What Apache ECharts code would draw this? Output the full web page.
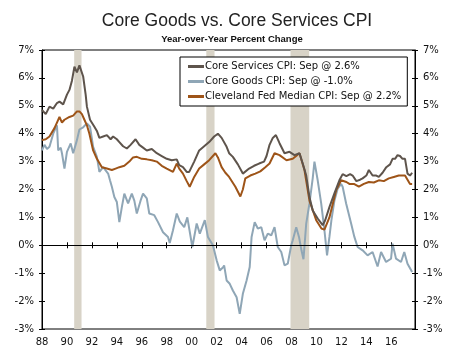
<!DOCTYPE html>
<html><head><meta charset="utf-8">
<script src="https://cdn.jsdelivr.net/npm/echarts@6/dist/echarts.min.js"></script>
<style>html,body{margin:0;padding:0;background:#fff}#c{width:450px;height:352px}</style>
</head><body><div id="c"></div>
<script>
// Year-over-year % change, readings [decimal year, value]
var coreServices = [[1988.0,4.85],[1988.3,4.7],[1988.6,4.97],[1988.9,4.9],[1989.2,5.1],[1989.4,5.15],[1989.7,5.05],[1990.0,5.4],[1990.2,5.57],[1990.4,5.9],[1990.6,6.4],[1990.8,6.2],[1991.0,6.45],[1991.1,6.5],[1991.3,6.05],[1991.5,5.4],[1991.6,4.97],[1991.85,4.5],[1992.2,4.25],[1992.4,4.1],[1992.6,3.85],[1992.9,3.9],[1993.2,3.95],[1993.5,3.8],[1993.7,3.9],[1994.0,3.8],[1994.2,3.7],[1994.5,3.55],[1994.8,3.47],[1995.1,3.6],[1995.5,3.8],[1995.8,3.6],[1996.1,3.5],[1996.4,3.4],[1996.8,3.45],[1997.2,3.3],[1997.6,3.2],[1998.0,3.1],[1998.4,3.05],[1998.8,3.08],[1999.0,2.87],[1999.3,2.8],[1999.6,2.63],[1999.8,2.63],[2000.2,3.0],[2000.6,3.4],[2001.0,3.55],[2001.4,3.7],[2001.8,3.9],[2002.1,4.0],[2002.4,3.85],[2002.8,3.53],[2003.0,3.3],[2003.3,3.17],[2003.7,2.9],[2004.1,2.57],[2004.6,2.75],[2005.0,2.85],[2005.4,2.93],[2005.8,3.0],[2006.0,3.2],[2006.24,3.6],[2006.5,3.85],[2006.75,3.95],[2007.04,3.66],[2007.44,3.3],[2007.84,3.35],[2008.24,3.23],[2008.64,3.3],[2008.9,2.93],[2009.18,2.5],[2009.44,1.73],[2009.7,1.25],[2010.1,0.96],[2010.5,0.72],[2010.7,0.9],[2011.04,1.37],[2011.44,1.86],[2011.84,2.33],[2012.1,2.55],[2012.4,2.48],[2012.7,2.55],[2012.9,2.5],[2013.2,2.3],[2013.5,2.35],[2013.7,2.4],[2014.0,2.5],[2014.2,2.7],[2014.5,2.5],[2014.8,2.5],[2015.0,2.45],[2015.3,2.6],[2015.6,2.8],[2015.9,2.9],[2016.1,3.1],[2016.3,3.1],[2016.5,3.23],[2016.7,3.2],[2016.9,3.1],[2017.1,3.1],[2017.2,3.05],[2017.3,2.57],[2017.5,2.5],[2017.67,2.6]];
var coreGoods = [[1988.0,3.4],[1988.2,3.6],[1988.4,3.45],[1988.6,3.53],[1988.9,4.0],[1989.2,4.3],[1989.3,3.4],[1989.5,3.5],[1989.6,3.3],[1989.8,2.75],[1990.0,3.35],[1990.3,3.65],[1990.5,3.3],[1990.8,3.77],[1991.0,4.15],[1991.3,4.23],[1991.6,4.37],[1991.85,4.25],[1992.1,3.53],[1992.4,3.17],[1992.6,2.63],[1992.9,2.8],[1993.3,2.57],[1993.45,2.33],[1993.6,2.1],[1993.8,1.73],[1994.0,1.55],[1994.2,0.83],[1994.4,1.37],[1994.6,1.85],[1994.9,1.5],[1995.2,1.85],[1995.4,1.6],[1995.6,1.14],[1995.9,1.6],[1996.1,1.85],[1996.4,1.68],[1996.6,1.14],[1997.0,1.08],[1997.3,0.83],[1997.7,0.47],[1998.1,0.3],[1998.24,0.08],[1998.5,0.54],[1998.8,1.14],[1999.05,0.85],[1999.4,0.65],[1999.65,1.0],[2000.05,-0.06],[2000.4,0.78],[2000.65,0.42],[2001.05,0.9],[2001.3,0.3],[2001.7,0.0],[2002.0,-0.54],[2002.25,-0.9],[2002.5,-0.8],[2002.6,-0.72],[2002.8,-1.26],[2003.05,-1.38],[2003.3,-1.62],[2003.6,-1.86],[2003.85,-2.46],[2004.1,-1.74],[2004.4,-1.26],[2004.65,-0.78],[2004.8,0.3],[2005.05,0.83],[2005.3,0.6],[2005.58,0.65],[2005.84,0.18],[2006.1,0.42],[2006.38,0.36],[2006.64,0.65],[2006.9,-0.06],[2007.18,-0.24],[2007.44,-0.72],[2007.7,-0.66],[2007.98,0.0],[2008.1,0.18],[2008.38,0.65],[2008.6,0.3],[2008.8,-0.18],[2008.96,-0.5],[2009.18,0.78],[2009.44,1.5],[2009.7,2.4],[2009.84,3.0],[2010.1,2.33],[2010.38,1.5],[2010.64,0.54],[2010.85,-0.36],[2011.04,0.3],[2011.2,0.9],[2011.44,1.6],[2011.7,2.03],[2011.98,2.2],[2012.1,2.1],[2012.38,1.5],[2012.78,0.78],[2013.04,0.3],[2013.3,-0.06],[2013.7,-0.18],[2014.1,-0.36],[2014.5,-0.24],[2014.9,-0.76],[2015.18,-0.24],[2015.58,-0.6],[2015.98,-0.48],[2016.1,0.06],[2016.38,-0.48],[2016.78,-0.6],[2017.04,-0.24],[2017.3,-0.66],[2017.67,-0.96]];
var medianCPI = [[1988.0,3.77],[1988.3,3.8],[1988.6,3.9],[1989.0,4.2],[1989.2,4.4],[1989.4,4.6],[1989.6,4.4],[1989.8,4.5],[1990.2,4.6],[1990.5,4.65],[1990.8,4.8],[1991.0,4.8],[1991.2,4.7],[1991.4,4.5],[1991.6,4.3],[1991.8,4.0],[1992.1,3.4],[1992.4,3.1],[1992.8,2.8],[1993.2,2.75],[1993.6,2.7],[1993.9,2.75],[1994.2,2.8],[1994.6,2.85],[1995.0,3.0],[1995.3,3.15],[1995.6,3.17],[1996.0,3.1],[1996.4,3.08],[1996.8,3.05],[1997.2,3.0],[1997.6,2.85],[1998.0,2.75],[1998.5,2.63],[1998.8,2.93],[1999.0,2.75],[1999.3,2.57],[1999.6,2.3],[1999.84,2.1],[2000.2,2.45],[2000.6,2.75],[2001.0,2.9],[2001.4,3.05],[2001.9,3.3],[2002.1,3.15],[2002.4,2.8],[2002.7,2.6],[2003.0,2.45],[2003.5,2.1],[2003.9,1.75],[2004.1,2.0],[2004.3,2.4],[2004.7,2.5],[2005.1,2.57],[2005.5,2.65],[2005.9,2.8],[2006.24,2.93],[2006.64,3.3],[2007.04,3.23],[2007.6,3.05],[2008.1,3.1],[2008.64,3.3],[2009.04,2.7],[2009.44,1.6],[2009.98,0.9],[2010.4,0.6],[2010.64,0.56],[2011.04,1.0],[2011.58,1.97],[2011.98,2.33],[2012.4,2.27],[2012.64,2.2],[2013.0,2.2],[2013.4,2.1],[2013.8,2.2],[2014.2,2.27],[2014.6,2.25],[2015.0,2.33],[2015.4,2.3],[2015.8,2.4],[2016.2,2.45],[2016.6,2.5],[2016.9,2.5],[2017.1,2.5],[2017.3,2.35],[2017.5,2.2],[2017.67,2.2]];
var recessions = [[1990.58,1991.17],[2001.17,2001.83],[2007.92,2009.42]];
var seriesNames = ['Core Services CPI: Sep @ 2.6%','Core Goods CPI: Sep @ -1.0%','Cleveland Fed Median CPI: Sep @ 2.2%'];
var yMin = -3, yMax = 7, xMin = 1988, xMax = 2017.9;

var FONT = 'DejaVu Sans';
var TFONT = 'Liberation Sans';
var chart = echarts.init(document.getElementById('c'), null, {renderer:'canvas'});
var yLabel = function(v){ return v + '%'; };
var xLabel = function(v){ if (Math.abs(v - Math.round(v)) > 1e-6) return ''; var s = String(Math.round(v) % 100); return s.length < 2 ? '0' + s : s; };
var lbl = {color:'#111', fontFamily:FONT, fontSize:10};
var axLine = {show:true, lineStyle:{color:'#000', width:1}};
function yAx(pos, inside, showLabel){
  return {type:'value', position:pos, min:yMin, max:yMax, interval:1,
    axisLine: inside ? {show:false} : axLine,
    axisTick:{show:true, inside:inside, length:3, lineStyle:{color:'#000'}},
    axisLabel: showLabel ? Object.assign({formatter:yLabel, margin:8}, lbl) : {show:false},
    splitLine:{show:false}};
}
function xAx(inside, showLabel){
  return {type:'value', position:'bottom', min:xMin, max:xMax, interval:2,
    axisLine: inside ? {show:false} : axLine,
    axisTick:{show:true, inside:inside, length:3, lineStyle:{color:'#000'}},
    axisLabel: showLabel ? Object.assign({formatter:xLabel, margin:8, showMaxLabel:false}, lbl) : {show:false},
    splitLine:{show:false}};
}
var colors = ['#5e544c','#8fa6b6','#9e5418'];
chart.setOption({
  animation:false,
  backgroundColor:'#fff',
  title:[
    {text:'Core Goods vs. Core Services CPI', left:232, top:7, textAlign:'center', textStyle:{fontFamily:TFONT, fontSize:17.5, fontWeight:'normal', color:'#222'}},
    {text:'Year-over-Year Percent Change', left:227, top:29, textAlign:'center', textStyle:{fontFamily:TFONT, fontSize:9.5, fontWeight:'bold', color:'#111'}}
  ],
  grid:{left:42, right:35, top:50, bottom:23, show:true, borderColor:'#000', borderWidth:1, backgroundColor:'transparent'},
  legend:{data:seriesNames, orient:'vertical', left:180, top:57, backgroundColor:'#fff', borderColor:'#000', borderWidth:1,
    padding:[3,6,3,8], itemGap:2, itemWidth:16, itemHeight:3, icon:'rect',
    textStyle:{fontFamily:FONT, fontSize:10, lineHeight:13, color:'#111', padding:[0,0,0,-4]}},
  xAxis:[xAx(false,true), xAx(true,false)],
  yAxis:[yAx('left',false,true), yAx('left',true,false), yAx('right',false,true), yAx('right',true,false)],
  series:[
    {name:'rec', type:'line', data:[], silent:true,
      markArea:{silent:true, itemStyle:{color:'#d8d3c7'}, data: recessions.map(function(r){ return [{xAxis:r[0], yAxis:yMin},{xAxis:r[1], yAxis:yMax}]; })},
      markLine:{silent:true, symbol:'none', label:{show:false}, lineStyle:{color:'#000', width:1, type:'solid'}, data:[{yAxis:0}]}},
    {name:seriesNames[1], type:'line', data:coreGoods, showSymbol:false, lineStyle:{color:colors[1], width:2}, itemStyle:{color:colors[1]}},
    {name:seriesNames[2], type:'line', data:medianCPI, showSymbol:false, lineStyle:{color:colors[2], width:2}, itemStyle:{color:colors[2]}},
    {name:seriesNames[0], type:'line', data:coreServices, showSymbol:false, lineStyle:{color:colors[0], width:2}, itemStyle:{color:colors[0]}}
  ]
});
</script></body></html>
